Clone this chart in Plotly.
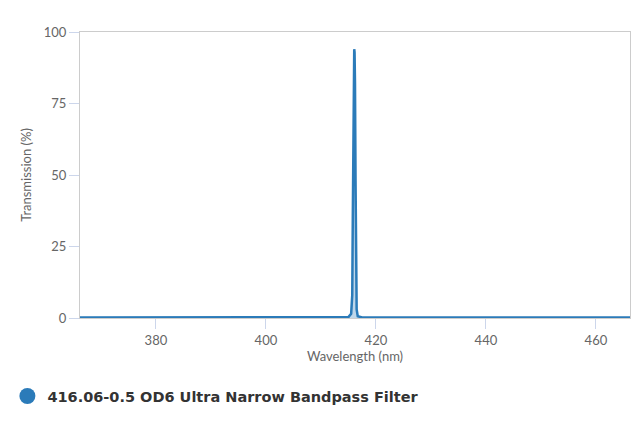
import plotly.graph_objects as go

# transmission curve of the filter
wavelength = [366.2, 380, 400, 410, 414.0, 415.0, 415.5, 415.7, 415.8, 415.9, 416.0,
              416.06, 416.12, 416.2, 416.3, 416.4, 416.5, 416.7, 417.5, 420, 440, 460, 466.2]
transmission = [0.2, 0.2, 0.2, 0.2, 0.2, 0.3, 1.5, 8, 35, 78, 92.5,
                94, 93, 82, 48, 14, 3, 0.6, 0.2, 0.2, 0.2, 0.2, 0.2]

series_name = "416.06-0.5 OD6 Ultra Narrow Bandpass Filter"
line_color = "#2b7bb9"

fig = go.Figure()
fig.add_trace(go.Scatter(x=wavelength, y=transmission, mode="lines",
                         line=dict(color=line_color, width=2.5),
                         fill="tozeroy", fillcolor="rgba(43,123,185,0.3)",
                         showlegend=False, hoverinfo="x+y"))
# legend entry with round marker
fig.add_trace(go.Scatter(x=[None], y=[None], mode="markers", name=series_name,
                         marker=dict(color=line_color, size=16)))

axis_common = dict(showline=True, linecolor="#cccccc", linewidth=1, mirror=True,
                   showgrid=False, zeroline=False, ticks="outside", ticklen=10,
                   tickcolor="#ccd6eb", automargin=False,
                   tickfont=dict(family="Lato", size=13, color="#666666"))

fig.update_xaxes(range=[366.2, 466.2], tickvals=[380, 400, 420, 440, 460],
                 title=dict(text="Wavelength (nm)", font=dict(family="Lato", size=13, color="#666666"),
                            standoff=4),
                 **axis_common)
fig.update_yaxes(range=[0, 100], tickvals=[0, 25, 50, 75, 100],
                 title=dict(text="Transmission (%)", font=dict(family="Lato", size=13, color="#666666"),
                            standoff=9),
                 **axis_common)

# the page has an 8px body margin, so the margins are shifted by that amount
fig.update_layout(width=640, height=427, plot_bgcolor="white", paper_bgcolor="white",
                  margin=dict(l=72, r=18, t=24, b=117, autoexpand=False),
                  legend=dict(x=-0.132, y=-0.273, xanchor="left", yanchor="middle",
                              orientation="h", itemsizing="trace",
                              font=dict(family="DejaVu Sans", size=14.5, color="#333333", weight="bold")))

fig.write_html("out.html")
